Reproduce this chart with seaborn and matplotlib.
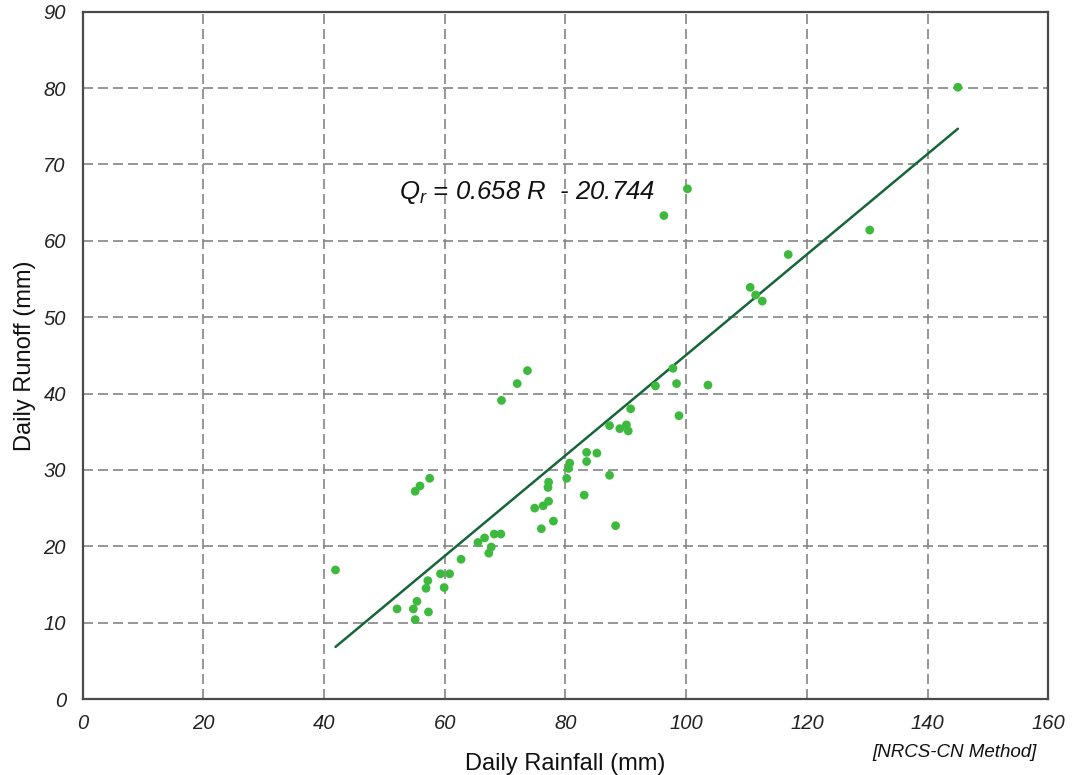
import numpy as np
import pandas as pd
import seaborn as sns
from matplotlib import pyplot as plt

rainfall = [41.9, 52.1, 54.8, 55.1, 57.3, 55.4, 56.9, 57.2, 59.9, 59.3,
            60.8, 62.7, 65.5, 66.6, 67.7, 67.3, 68.2, 69.3, 74.9, 76.0,
            76.3, 77.2, 77.1, 77.2, 55.1, 55.9, 57.5, 69.4, 72.0, 73.7,
            78.0, 80.2, 80.5, 80.7, 83.1, 83.5, 83.5, 85.2, 87.3, 88.3,
            87.3, 89.0, 90.1, 90.4, 90.8, 94.9, 97.8, 98.4, 98.8, 103.6,
            145.0, 100.2, 96.3, 130.4, 116.9, 110.6, 111.5, 112.6]
runoff = [16.9, 11.8, 11.8, 10.4, 11.4, 12.8, 14.5, 15.5, 14.6, 16.4,
          16.4, 18.3, 20.5, 21.1, 19.9, 19.1, 21.6, 21.6, 25.0, 22.3,
          25.3, 25.9, 27.7, 28.4, 27.2, 27.9, 28.9, 39.1, 41.3, 43.0,
          23.3, 28.9, 30.2, 30.9, 26.7, 31.1, 32.3, 32.2, 29.3, 22.7,
          35.8, 35.4, 35.9, 35.1, 38.0, 41.0, 43.3, 41.3, 37.1, 41.1,
          80.1, 66.8, 63.3, 61.4, 58.2, 53.9, 52.9, 52.1]

# fitted relation shown on the chart
slope = 0.658
intercept = -20.744

x_ticks = [0, 20, 40, 60, 80, 100, 120, 140, 160]
y_ticks = [0, 10, 20, 30, 40, 50, 60, 70, 80, 90]

sns.set_style("white")
plt.rcParams['font.family'] = ['Liberation Sans', 'DejaVu Sans']
plt.rcParams['mathtext.fontset'] = 'custom'
plt.rcParams['mathtext.it'] = 'Liberation Sans:italic'
plt.rcParams['mathtext.rm'] = 'Liberation Sans:italic'

df = pd.DataFrame({"rain": rainfall, "runoff": runoff})
fit = pd.DataFrame({"rain": [min(rainfall), max(rainfall)]})
fit["runoff"] = slope * fit["rain"] + intercept

fig, ax = plt.subplots(figsize=(10.72, 7.75), dpi=100)
fig.subplots_adjust(left=0.077, right=0.978, top=0.985, bottom=0.098)

sns.lineplot(data=fit, x="rain", y="runoff", ax=ax, color="#17663a",
             linewidth=1.8, zorder=3)
sns.scatterplot(data=df, x="rain", y="runoff", ax=ax, color="#3dba3d",
                s=40, edgecolor="none", zorder=4)

ax.set_xlim(0, 160)
ax.set_ylim(0, 90)
ax.set_xticks(x_ticks)
ax.set_yticks(y_ticks)
ax.set_xticklabels([str(t) for t in x_ticks], fontstyle="italic", fontsize=14.5)
ax.set_yticklabels([str(t) for t in y_ticks], fontstyle="italic", fontsize=14.5)
ax.tick_params(axis="both", length=0, colors="#222222")
ax.tick_params(axis="x", pad=11)
ax.tick_params(axis="y", pad=12)

ax.grid(True, color="#858585", linestyle=(0, (6, 3)), linewidth=1.2)
ax.set_axisbelow(True)
for side in ["left", "bottom", "top", "right"]:
    ax.spines[side].set_color("#4a4a4a")
    ax.spines[side].set_linewidth(1.6)

ax.set_xlabel("Daily Rainfall (mm)", fontsize=17, labelpad=14, color="#111111")
ax.set_ylabel("Daily Runoff (mm)", fontsize=17, labelpad=5, color="#111111")

ax.text(52.5, 66.3, r"$Q_r$ = 0.658 R  - 20.744", fontsize=18.5,
        fontstyle="italic", color="#111111", va="center")
ax.text(0.988, -0.066, "[NRCS-CN Method]", transform=ax.transAxes,
        fontsize=13.5, fontstyle="italic", ha="right", va="top", color="#111111")

plt.savefig("out.png", dpi=100)
